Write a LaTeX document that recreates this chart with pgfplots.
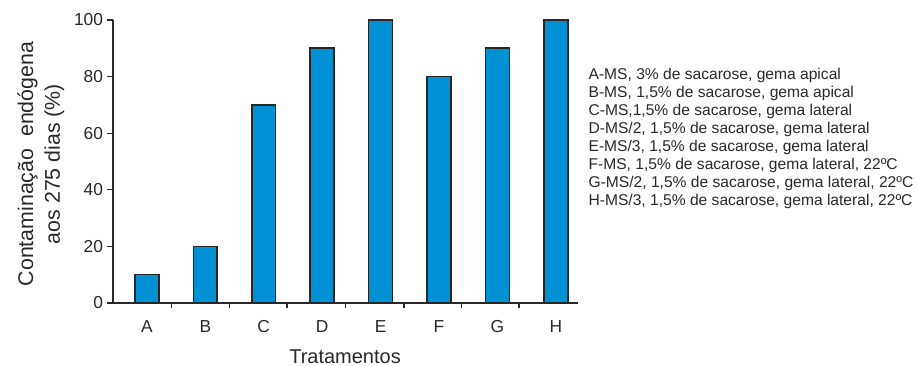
\documentclass[border=0pt]{standalone}
\usepackage{pgfplots}
\pgfplotsset{compat=1.18}
\usepackage{fontspec}
\setmainfont{Liberation Sans}
\definecolor{barblue}{RGB}{0,145,213}
\definecolor{axgray}{RGB}{40,40,40}
\begin{document}
\begin{tikzpicture}
\begin{axis}[
  at={(0,0)}, anchor=south west,
  scale only axis, width=348.75pt, height=212.25pt,
  xmin=-0.58, xmax=7.38, ymin=0, ymax=100,
  clip=false,
  axis lines*=left,
  axis line style={axgray, line width=1.2pt},
  xtick={0,...,7}, xticklabels={A,B,C,D,E,F,G,H},
  minor xtick={0.42,1.41,2.40,3.40,4.40,5.38,6.37},
  major x tick style={draw=none},
  minor x tick style={axgray, line width=1pt},
  ytick={0,20,...,100},
  ytick style={axgray, line width=1pt},
  tick align=outside,
  major tick length=4.5pt, minor tick length=4pt,
  /pgf/number format/assume math mode=true,
  tick label style={font=\fontsize{13}{15}\selectfont, text=axgray},
  xticklabel style={anchor=base, yshift=-18pt},
  yticklabel style={anchor=east, xshift=0.5pt},
  ylabel={Contaminação\ \ endógena\\aos 275 dias (\%)},
  ylabel style={align=center, font=\fontsize{16}{20}\selectfont, text=axgray,
    at={(axis description cs:-0.155,0.491)}, anchor=center},
  xlabel={Tratamentos},
  xlabel style={font=\fontsize{15}{18}\selectfont, text=axgray,
    at={(axis description cs:0.499,-0.214)}, anchor=base},
]
\addplot[ybar, bar width=0.41, fill=barblue, draw=axgray, line width=1.2pt]
  coordinates {(0,10) (1,20) (2,70) (3,90) (4,100) (5,80) (6,90) (7,100)};
\end{axis}
\foreach \t [count=\i from 0] in {
  {A-MS, 3\% de sacarose, gema apical},
  {B-MS, 1,5\% de sacarose, gema apical},
  {C-MS,1,5\% de sacarose, gema lateral},
  {D-MS/2, 1,5\% de sacarose, gema lateral},
  {E-MS/3, 1,5\% de sacarose, gema lateral},
  {F-MS, 1,5\% de sacarose, gema lateral, 22ºC},
  {G-MS/2, 1,5\% de sacarose, gema lateral, 22ºC},
  {H-MS/3, 1,5\% de sacarose, gema lateral, 22ºC}}
  \node[anchor=base west, inner sep=0pt, text=axgray, font=\fontsize{11.7}{13.4}\selectfont]
    at (356.5pt, 167.25pt-\i*13.4pt) {\t};
\pgfresetboundingbox
\path (-84.75pt,-47.25pt) rectangle (603pt,227.25pt);
\end{tikzpicture}
\end{document}
